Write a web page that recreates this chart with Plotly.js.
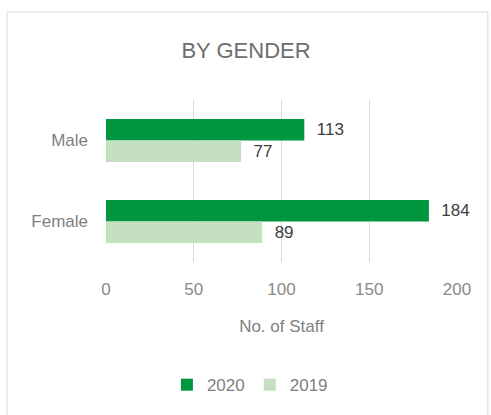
<!DOCTYPE html>
<html>
<head>
<meta charset="utf-8">
<script src="https://cdn.plot.ly/plotly-3.0.1.min.js"></script>
<style>html,body{margin:0;padding:0;background:#fff;}#chart{width:491px;height:415px;}</style>
</head>
<body>
<div id="chart"></div>
<script>
const categories = ["Male", "Female"];
const values2020 = [113, 184];
const values2019 = [77, 89];
const seriesNames = ["2020", "2019"];
const xTicks = [0, 50, 100, 150, 200];

const FONT = "Liberation Sans, Arial, sans-serif";
const common = {
  type: "bar", orientation: "h",
  textposition: "outside",
  texttemplate: "  %{x}",
  textfont: {family: FONT, size: 17, color: "#404040"},
  cliponaxis: false,
  hoverinfo: "none"
};
const traces = [
  Object.assign({}, common, {name: seriesNames[0], x: values2020, y: categories, marker: {color: "#00963F"}}),
  Object.assign({}, common, {name: seriesNames[1], x: values2019, y: categories, marker: {color: "#C5E0C0"}})
];

const layout = {
  width: 491, height: 415,
  margin: {l: 106, r: 34, t: 100, b: 153},
  paper_bgcolor: "#fff", plot_bgcolor: "#fff",
  font: {family: FONT, color: "#808080", size: 17},
  title: {text: "BY GENDER", font: {family: FONT, size: 22, color: "#6e6e6e"}, x: 246/491, xref: "container", xanchor: "center", y: 1 - 50/415, yanchor: "middle"},
  barmode: "group", bargap: 0.47, bargroupgap: 0,
  xaxis: {
    range: [0, 200], tickvals: xTicks, ticktext: xTicks.map(String),
    showgrid: true, gridcolor: "#d9d9d9", gridwidth: 1,
    zeroline: false, showline: false, ticks: "",
    tickfont: {family: FONT, size: 17, color: "#8a8a8a"},
    ticklabelstandoff: 15,
    title: {text: "No. of Staff", font: {family: FONT, size: 17, color: "#808080"}, standoff: 22}
  },
  yaxis: {
    autorange: "reversed", type: "category",
    showgrid: false, zeroline: false, showline: false, ticks: "",
    tickfont: {family: FONT, size: 17, color: "#808080"},
    ticklabelstandoff: 17
  },
  showlegend: true,
  legend: {orientation: "h", x: 0.41, xanchor: "center", y: -0.76, yanchor: "middle",
    font: {family: FONT, size: 17, color: "#808080"}, itemclick: false},
  shapes: [{type: "rect", xref: "paper", yref: "paper", x0: -0.282, x1: 1.088, y0: -0.96, y1: 1.543,
    line: {color: "#d9d9d9", width: 1}, fillcolor: "rgba(0,0,0,0)", layer: "below"}]
};

Plotly.newPlot("chart", traces, layout, {staticPlot: true, displayModeBar: false});
</script>
</body>
</html>
